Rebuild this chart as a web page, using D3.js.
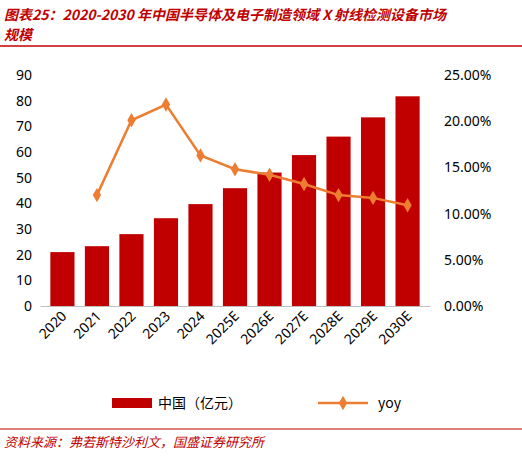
<!DOCTYPE html>
<html><head><meta charset="utf-8">
<script src="https://cdn.jsdelivr.net/npm/d3@7"></script>
<style>body{margin:0;background:#fff;font-family:"Noto Sans CJK SC","Noto Sans",sans-serif}</style>
</head><body><div id="chart"></div>
<script>
const years = ["2020","2021","2022","2023","2024","2025E","2026E","2027E","2028E","2029E","2030E"];
const china = [21,23.3,28,34.2,39.7,45.9,52,58.8,66,73.5,81.7];
const yoy = [null,0.120,0.201,0.218,0.163,0.148,0.142,0.132,0.120,0.117,0.109];
const leftTicks = [0,10,20,30,40,50,60,70,80,90];
const rightTicks = [0,0.05,0.10,0.15,0.20,0.25];

const W=522,H=457, red="#c00000", orange="#ed7d31";
const m={l:40,r:92,t:75,b:151};
const svg=d3.select("#chart").append("svg").attr("width",W).attr("height",H);

// title
svg.append("text").attr("x",4).attr("y",20).attr("fill",red).attr("font-size",14).attr("font-style","italic").attr("font-weight",700)
  .text("图表25：2020-2030 年中国半导体及电子制造领域 X 射线检测设备市场");
svg.append("text").attr("x",4).attr("y",40).attr("fill",red).attr("font-size",14).attr("font-style","italic").attr("font-weight",700).text("规模");
svg.append("line").attr("x1",0).attr("x2",W).attr("y1",46).attr("y2",46).attr("stroke",red).attr("stroke-width",1.5);

const x=d3.scaleBand().domain(years).range([m.l,W-m.r]).padding(0.3);
const y=d3.scaleLinear().domain([0,90]).range([H-m.b,m.t]);
const y2=d3.scaleLinear().domain([0,0.25]).range([H-m.b,m.t]);

const ax=svg.append("g").attr("transform",`translate(${m.l},0)`).call(d3.axisLeft(y).tickValues(leftTicks).tickSize(0).tickPadding(8));
ax.select(".domain").remove();
ax.selectAll("text").attr("font-size",14).attr("font-family","Noto Sans").attr("fill","#000");

const ar=svg.append("g").attr("transform",`translate(${W-m.r},0)`).call(d3.axisRight(y2).tickValues(rightTicks).tickSize(0).tickPadding(14).tickFormat(d3.format(".2%")));
ar.select(".domain").remove();
ar.selectAll("text").attr("font-size",14).attr("font-family","Noto Sans").attr("fill","#000");

svg.selectAll("rect.bar").data(years).join("rect").attr("class","bar")
  .attr("x",d=>x(d)).attr("width",x.bandwidth())
  .attr("y",(d,i)=>y(china[i])).attr("height",(d,i)=>y(0)-y(china[i])).attr("fill",red);

const bx=svg.append("g").attr("transform",`translate(0,${H-m.b})`).call(d3.axisBottom(x).tickSize(0));
bx.select(".domain").attr("stroke","#bfbfbf");
bx.selectAll("text").attr("font-size",14).attr("font-family","Noto Sans").attr("fill","#000")
  .attr("text-anchor","end").attr("transform","rotate(-45)").attr("dx","-0.3em").attr("dy","0.6em");

const pts=years.map((d,i)=>({d,v:yoy[i]})).filter(p=>p.v!=null);
svg.append("path").datum(pts).attr("fill","none").attr("stroke",orange).attr("stroke-width",2.5)
  .attr("d",d3.line().x(p=>x(p.d)+x.bandwidth()/2).y(p=>y2(p.v)));
svg.selectAll("path.mk").data(pts).join("path").attr("class","mk")
  .attr("d",d3.symbol(d3.symbolDiamond,60)).attr("fill",orange)
  .attr("transform",p=>`translate(${x(p.d)+x.bandwidth()/2},${y2(p.v)})`);

// legend
svg.append("rect").attr("x",112).attr("y",398).attr("width",40).attr("height",10).attr("fill",red);
svg.append("text").attr("x",158).attr("y",408).attr("font-size",14).text("中国（亿元）");
svg.append("line").attr("x1",318).attr("x2",368).attr("y1",403).attr("y2",403).attr("stroke",orange).attr("stroke-width",2.5);
svg.append("path").attr("d",d3.symbol(d3.symbolDiamond,60)).attr("fill",orange).attr("transform","translate(343,403)");
svg.append("text").attr("x",378).attr("y",408).attr("font-size",14).text("yoy");

svg.append("line").attr("x1",0).attr("x2",W).attr("y1",429).attr("y2",429).attr("stroke",red).attr("stroke-width",1);
svg.append("text").attr("x",4).attr("y",447).attr("fill",red).attr("font-size",13).attr("font-style","italic")
  .text("资料来源：弗若斯特沙利文，国盛证券研究所");
</script></body></html>
